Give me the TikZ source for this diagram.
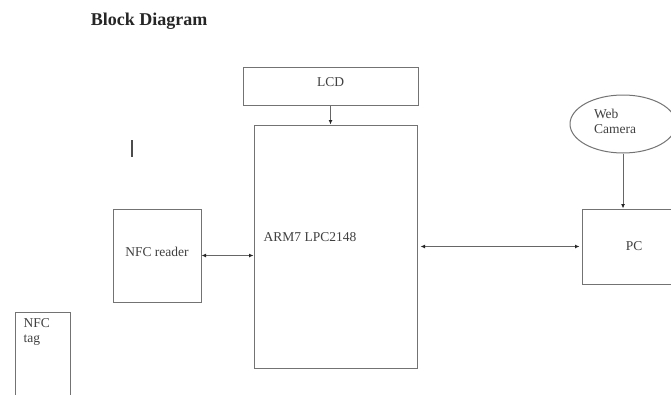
\documentclass[tikz,border=0pt]{standalone}
\usepackage{fontspec}
\setmainfont{Liberation Serif}
\usetikzlibrary{arrows.meta,positioning,shapes.geometric,calc}

\begin{document}
\begin{tikzpicture}[x=1pt, y=-1pt, every node/.style={font=\fontsize{13.5}{15}\selectfont}]
\tikzset{blk/.style={draw=black!55, line width=1pt, inner sep=0pt, fill=white}}
\tikzset{cam/.style={draw=black!55, line width=1pt, ellipse, inner sep=0pt}}
\tikzset{txt/.style={text=black!75, inner sep=0pt, align=left}}
\tikzset{link/.style={draw=black!60, line width=1pt, -{Latex[length=4.5pt,width=4pt,color=black!85]}}}
\tikzset{link2/.style={link, {Latex[length=4.5pt,width=4pt,color=black!85]}-{Latex[length=4.5pt,width=4pt,color=black!85]}}}
\clip (0,0) rectangle (671,394);
\node[font=\fontsize{18}{20}\selectfont\bfseries, text=black!85] (title) at (149,21) {Block Diagram};
\node[blk, minimum width=175pt, minimum height=38pt] (lcd) at (330.5,86) {};
\node[txt, yshift=4pt] (lcdtxt) at (lcd) {LCD};
\node[blk, minimum width=163pt, minimum height=243pt] (arm) at (335.5,246.5) {};
\node[txt, right=10pt of arm.west, yshift=9pt] (armtxt) {ARM7 LPC2148};
\node[blk, minimum width=88pt, minimum height=93pt, text=black!75] (reader) at (157,255.5) {};
\node[txt, yshift=4pt] (readertxt) at (reader) {NFC reader};
\node[blk, minimum width=104pt, minimum height=75pt, text=black!75] (pc) at (634,246.5) {PC};
\node[cam, minimum width=106pt, minimum height=58pt] (webcam) at (623,124) {};
\node[txt] (webcamtxt) at (615,121) {Web\\Camera};
\node[blk, minimum width=55pt, minimum height=98pt] (tag) at (42.5,361) {};
\node[txt, anchor=north west] (tagtxt) at ([xshift=9pt,yshift=-7pt]tag.north west) {NFC\\tag};
\coordinate (mark top) at (132,140);
\coordinate (mark bot) at (132,157);
\draw[black!70, line width=1.2pt] (mark top) -- (mark bot);
\draw[link] (lcd.south) -- (lcd.south |- arm.north);
\draw[link2] (reader.east) -- (reader.east -| arm.west);
\draw[link2] ([xshift=3pt]arm.east) -- ([xshift=-2pt]pc.west);
\draw[link] (webcam.south) -- (webcam.south |- pc.north);
\end{tikzpicture}
\end{document}
